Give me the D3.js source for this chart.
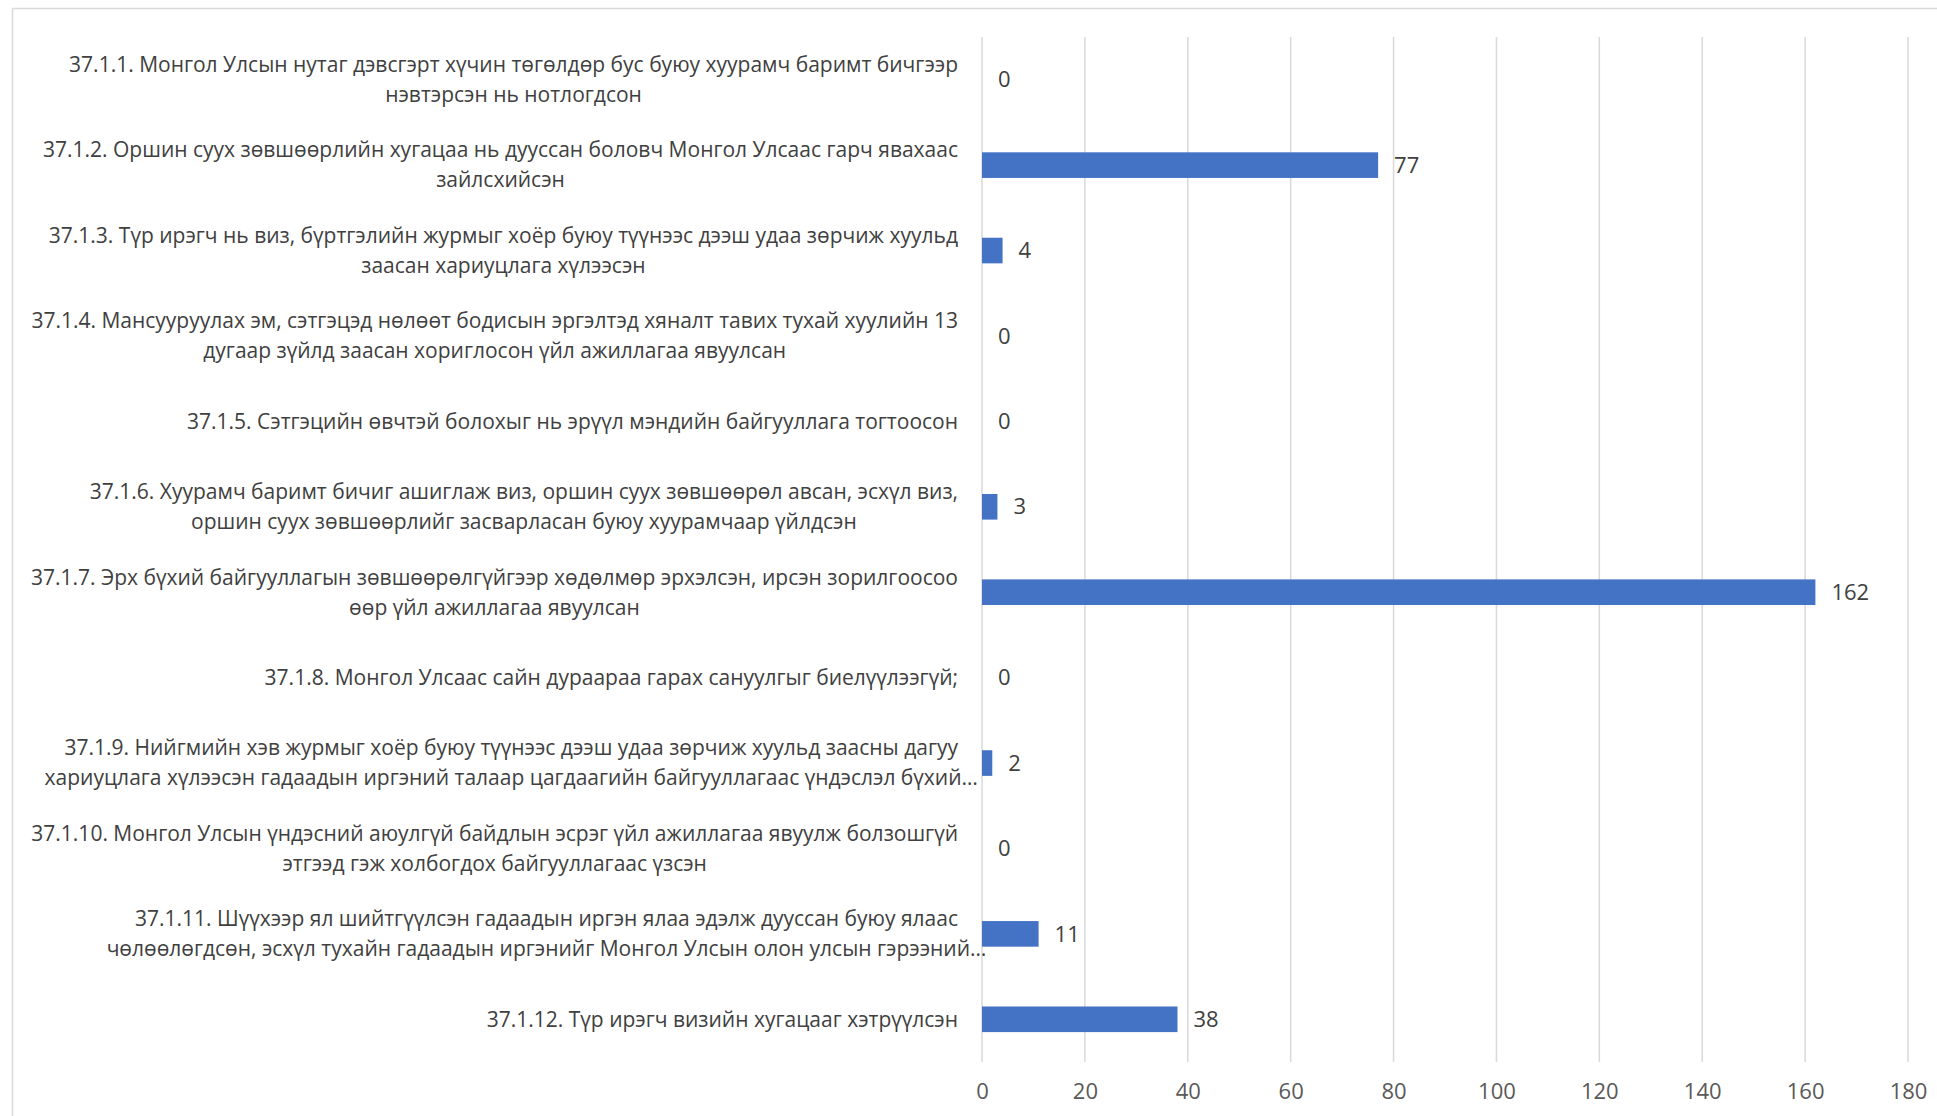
<!DOCTYPE html>
<html>
<head>
<meta charset="utf-8">
<script src="https://cdn.jsdelivr.net/npm/d3@7/dist/d3.min.js"></script>
<style>
  html, body { margin: 0; padding: 0; background: #fff; }
  svg { display: block; }
  text { font-family: "Open Sans", "Noto Sans", sans-serif; }
</style>
</head>
<body>
<svg id="chart" width="1937" height="1116"></svg>
<script>
const categories = [
  "37.1.1. Монгол Улсын нутаг дэвсгэрт хүчин төгөлдөр бус буюу хуурамч баримт бичгээр\nнэвтэрсэн нь нотлогдсон",
  "37.1.2. Оршин суух зөвшөөрлийн хугацаа нь дууссан боловч Монгол Улсаас гарч явахаас\nзайлсхийсэн",
  "37.1.3. Түр ирэгч нь виз, бүртгэлийн журмыг хоёр буюу түүнээс дээш удаа зөрчиж хуульд\nзаасан хариуцлага хүлээсэн",
  "37.1.4. Мансууруулах эм, сэтгэцэд нөлөөт бодисын эргэлтэд хяналт тавих тухай хуулийн 13\nдугаар зүйлд заасан хориглосон үйл ажиллагаа явуулсан",
  "37.1.5. Сэтгэцийн өвчтэй болохыг нь эрүүл мэндийн байгууллага тогтоосон",
  "37.1.6. Хуурамч баримт бичиг ашиглаж виз, оршин суух зөвшөөрөл авсан, эсхүл виз,\nоршин суух зөвшөөрлийг засварласан буюу хуурамчаар үйлдсэн",
  "37.1.7. Эрх бүхий байгууллагын зөвшөөрөлгүйгээр хөдөлмөр эрхэлсэн, ирсэн зорилгоосоо\nөөр үйл ажиллагаа явуулсан",
  "37.1.8. Монгол Улсаас сайн дураараа гарах сануулгыг биелүүлээгүй;",
  "37.1.9. Нийгмийн хэв журмыг хоёр буюу түүнээс дээш удаа зөрчиж хуульд заасны дагуу\nхариуцлага хүлээсэн гадаадын иргэний талаар цагдаагийн байгууллагаас үндэслэл бүхий…",
  "37.1.10. Монгол Улсын үндэсний аюулгүй байдлын эсрэг үйл ажиллагаа явуулж болзошгүй\nэтгээд гэж холбогдох байгууллагаас үзсэн",
  "37.1.11. Шүүхээр ял шийтгүүлсэн гадаадын иргэн ялаа эдэлж дууссан буюу ялаас\nчөлөөлөгдсөн, эсхүл тухайн гадаадын иргэнийг Монгол Улсын олон улсын гэрээний…",
  "37.1.12. Түр ирэгч визийн хугацааг хэтрүүлсэн"
];
const values = [0, 77, 4, 0, 0, 3, 162, 0, 2, 0, 11, 38];
const tickValues = [0, 20, 40, 60, 80, 100, 120, 140, 160, 180];

const svg = d3.select("#chart");
const W = 1937, H = 1116;
const plot = { left: 982, right: 1908, top: 37, bottom: 1062 };

// chart frame
svg.append("path")
  .attr("d", `M${W + 2},8.5 H12.5 V${H + 2}`)
  .attr("fill", "none")
  .attr("stroke", "#d9d9d9")
  .attr("stroke-width", 1.5);

const x = d3.scaleLinear().domain([0, 180]).range([plot.left, plot.right]);
const y = d3.scaleBand().domain(categories).range([plot.top, plot.bottom])
  .paddingInner(0.7).paddingOuter(0.35);

// gridlines
svg.append("g").selectAll("line").data(tickValues).join("line")
  .attr("x1", d => x(d)).attr("x2", d => x(d))
  .attr("y1", plot.top).attr("y2", plot.bottom)
  .attr("stroke", "#d9d9d9").attr("stroke-width", 1.5);

// x axis tick labels
const xAxis = d3.axisBottom(x).tickValues(tickValues).tickSize(0).tickPadding(0);
const gx = svg.append("g").attr("transform", `translate(0,${plot.bottom})`).call(xAxis);
gx.select(".domain").remove();
gx.selectAll("text")
  .attr("y", 29).attr("dy", "0.35em")
  .attr("fill", "#595959")
  .style("font-size", "22px")
  .style("font-family", "'Open Sans', 'Noto Sans', sans-serif");

// bars
svg.append("g").selectAll("rect").data(values).join("rect")
  .attr("x", x(0))
  .attr("y", (d, i) => y(categories[i]))
  .attr("width", d => x(d) - x(0))
  .attr("height", y.bandwidth())
  .attr("fill", "#4472C4");

// value labels
svg.append("g").selectAll("text").data(values).join("text")
  .attr("x", d => x(d) + 16)
  .attr("y", (d, i) => y(categories[i]) + y.bandwidth() / 2)
  .attr("dy", "0.35em")
  .attr("fill", "#404040")
  .style("font-size", "22px")
  .text(d => d);

// category labels (lines centred on each other; block right-aligned,
// truncated lines ending in "…" may overflow like the original)
const labelRight = 958;
const lineH = 30;
const gl = svg.append("g");
categories.forEach((c, i) => {
  const lines = c.split("\n");
  const cy = y(c) + y.bandwidth() / 2;
  const g = gl.append("g");
  const texts = lines.map((ln, j) => g.append("text")
    .attr("y", cy + (j - (lines.length - 1) / 2) * lineH)
    .attr("dy", "0.35em")
    .attr("text-anchor", "middle")
    .attr("fill", "#404040")
    .style("font-size", "21px")
    .text(ln));
  const widths = texts.map((t, j) => lines[j].endsWith("…") ? 0 : t.node().getComputedTextLength());
  const bw = Math.max(...widths);
  texts.forEach(t => t.attr("x", labelRight - bw / 2));
});
</script>
</body>
</html>
